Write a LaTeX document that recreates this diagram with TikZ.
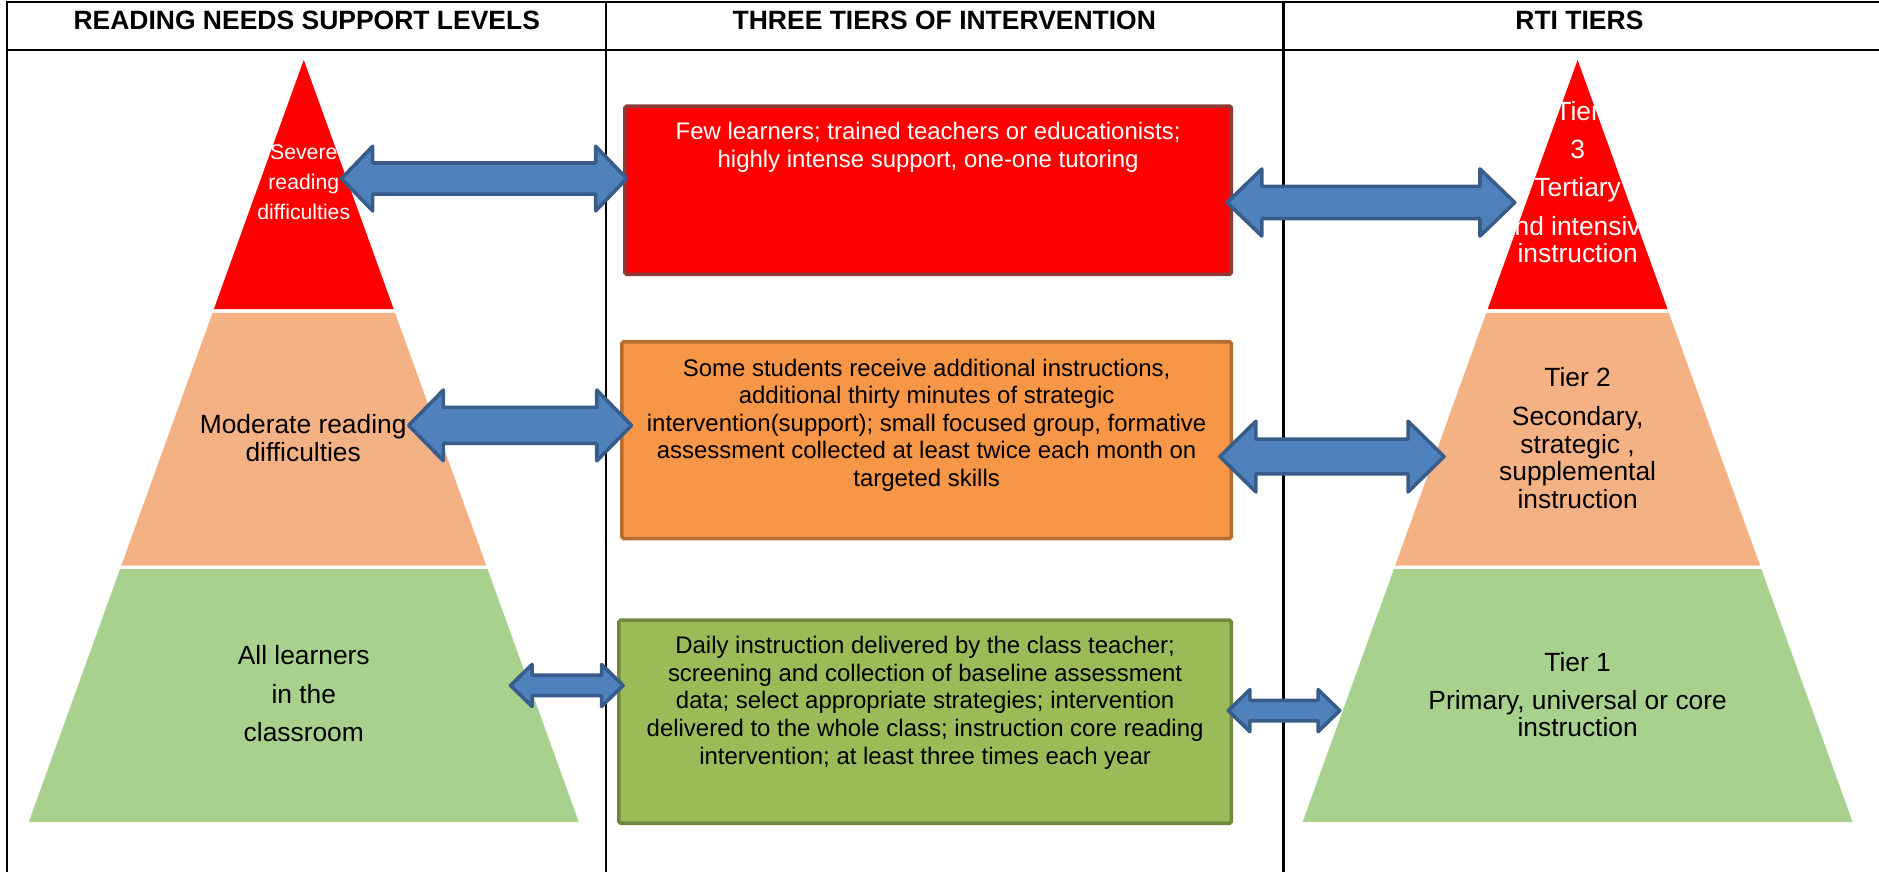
\documentclass[tikz,border=0pt]{standalone}
\usepackage{fontspec}
\setmainfont{Liberation Sans}
\usetikzlibrary{calc}
\definecolor{pyrred}{RGB}{255,0,0}
\definecolor{pyrpeach}{RGB}{244,177,131}
\definecolor{pyrgreen}{RGB}{169,209,142}
\definecolor{redfill}{RGB}{255,0,0}
\definecolor{redline}{RGB}{142,58,56}
\definecolor{orfill}{RGB}{247,150,70}
\definecolor{orline}{RGB}{182,109,49}
\definecolor{grfill}{RGB}{155,187,89}
\definecolor{grline}{RGB}{113,137,63}
\definecolor{arfill}{RGB}{79,129,189}
\definecolor{arline}{RGB}{56,93,138}

% three stacked levels of a pyramid centred at x=#1
\newcommand\drawpyramid[1]{%
  \fill[pyrred] (#1,50) -- ({#1+0.36085*208},258) -- ({#1-0.36085*208},258) -- cycle;
  \fill[pyrpeach] ({#1-0.36085*211},261) -- ({#1+0.36085*211},261) -- ({#1+0.36085*422},472) -- ({#1-0.36085*422},472) -- cycle;
  \fill[pyrgreen] ({#1-0.36085*425},475) -- ({#1+0.36085*425},475) -- ({#1+0.36085*636},686) -- ({#1-0.36085*636},686) -- cycle;}

% block double arrow between two named tip coordinates
\newcommand\blockarrow[5]{%
  \draw[barrow] (#1) -- ($(#1)+(#3,-#4)$) -- ($(#1)+(#3,-#5)$) -- ($(#2)+(-#3,-#5)$) -- ($(#2)+(-#3,-#4)$) -- (#2)
    -- ($(#2)+(-#3,#4)$) -- ($(#2)+(-#3,#5)$) -- ($(#1)+(#3,#5)$) -- ($(#1)+(#3,#4)$) -- cycle;}

\begin{document}
\begin{tikzpicture}[x=1pt,y=-1pt,
  gridline/.style={line width=1.8pt,black},
  hdr/.style={font=\bfseries\fontsize{22.1pt}{26pt}\selectfont,anchor=base,inner sep=0pt},
  tierbox/.style={rectangle,rounded corners=1.5pt,line width=3pt,anchor=north west,inner sep=0pt},
  boxtext/.style={font=\fontsize{20pt}{23pt}\selectfont,align=center,anchor=north,inner sep=0pt},
  pyrtext/.style={align=center,anchor=north,inner sep=0pt},
  barrow/.style={fill=arfill,draw=arline,line width=3pt,line join=round}]
\useasboundingbox (0,0) rectangle (1568,728);

% table frame
\draw[gridline] (1568,2) -- (6,2) -- (6,728);
\draw[gridline] (6,42) -- (1568,42);
\draw[gridline] (506,2) -- (506,728);
\draw[gridline] (1071,2) -- (1071,728);

% headers
\node[hdr] (h1) at (256,24.3) {READING NEEDS SUPPORT LEVELS};
\node[hdr] (h2) at (788,24.3) {THREE TIERS OF INTERVENTION};
\node[hdr] (h3) at (1318,24.3) {RTI TIERS};

% pyramids
\drawpyramid{253.5}
\drawpyramid{1316.5}

% left pyramid texts
\node[pyrtext,text=white,font=\fontsize{17.7pt}{25pt}\selectfont] (lsev) at (253.5,115.5)
  {\strut Severe\\ reading\\ difficulties};
\node[pyrtext,font=\fontsize{22pt}{23pt}\selectfont] (lmod) at (253,345.4)
  {\strut Moderate reading\\ difficulties};
\node[pyrtext,font=\fontsize{22pt}{32pt}\selectfont] (lall) at (253.5,532.1)
  {\strut All learners\\ in the\\ classroom};

% right pyramid texts
\node[pyrtext,text=white,font=\fontsize{22pt}{32pt}\selectfont] (rt3) at (1316.5,77.6)
  {\strut Tier\\ 3\\ Tertiary\\ and intensive\\[-9pt] instruction};
\node[pyrtext,font=\fontsize{22pt}{23pt}\selectfont] (rt2) at (1316.5,305.9)
  {\strut Tier 2\\[10pt] Secondary,\\ strategic ,\\ supplemental\\ instruction};
\node[pyrtext,font=\fontsize{22pt}{23pt}\selectfont] (rt1) at (1316.5,543.9)
  {\strut Tier 1\\[8.5pt] Primary, universal or core\\ instruction};

% intervention boxes
\node[tierbox,fill=redfill,draw=redline,minimum width=506,minimum height=140.5] (b3) at (520,87) {};
\node[tierbox,fill=orfill,draw=orline,minimum width=508.5,minimum height=164.3] (b2) at (517.5,283.7) {};
\node[tierbox,fill=grfill,draw=grline,minimum width=511,minimum height=169.5] (b1) at (515,516) {};

\node[boxtext,text=white] (t3) at ($(b3.north)+(0,13.3)$)
  {\strut Few learners; trained teachers or educationists;\\ highly intense support, one-one tutoring};
\node[boxtext] (t2) at ($(b2.north)+(0,14)$)
  {\strut Some students receive additional instructions,\\ additional thirty minutes of strategic\\ intervention(support); small focused group, formative\\ assessment collected at least twice each month on\\ targeted skills};
\node[boxtext] (t1) at ($(b1.north)+(0,13.3)$)
  {\strut Daily instruction delivered by the class teacher;\\ screening and collection of baseline assessment\\ data; select appropriate strategies; intervention\\ delivered to the whole class; instruction core reading\\ intervention; at least three times each year};

% arrow tips
\coordinate (a1l) at (285,149);  \coordinate (a1r) at (523,149);
\coordinate (a2l) at (1024,169); \coordinate (a2r) at (1264,169);
\coordinate (a3l) at (341,355);  \coordinate (a3r) at (527,355);
\coordinate (a4l) at (1018,381); \coordinate (a4r) at (1205,381);
\coordinate (a5l) at (426,572);  \coordinate (a5r) at (520,572);
\coordinate (a6l) at (1025,593); \coordinate (a6r) at (1118,593);

\blockarrow{a1l}{a1r}{26}{27}{13}
\blockarrow{a2l}{a2r}{29}{28}{13.5}
\blockarrow{a3l}{a3r}{29}{29.5}{15}
\blockarrow{a4l}{a4r}{30}{29.5}{14.5}
\blockarrow{a5l}{a5r}{18}{17.5}{8.5}
\blockarrow{a6l}{a6r}{18}{17.5}{8.5}
\end{tikzpicture}
\end{document}
